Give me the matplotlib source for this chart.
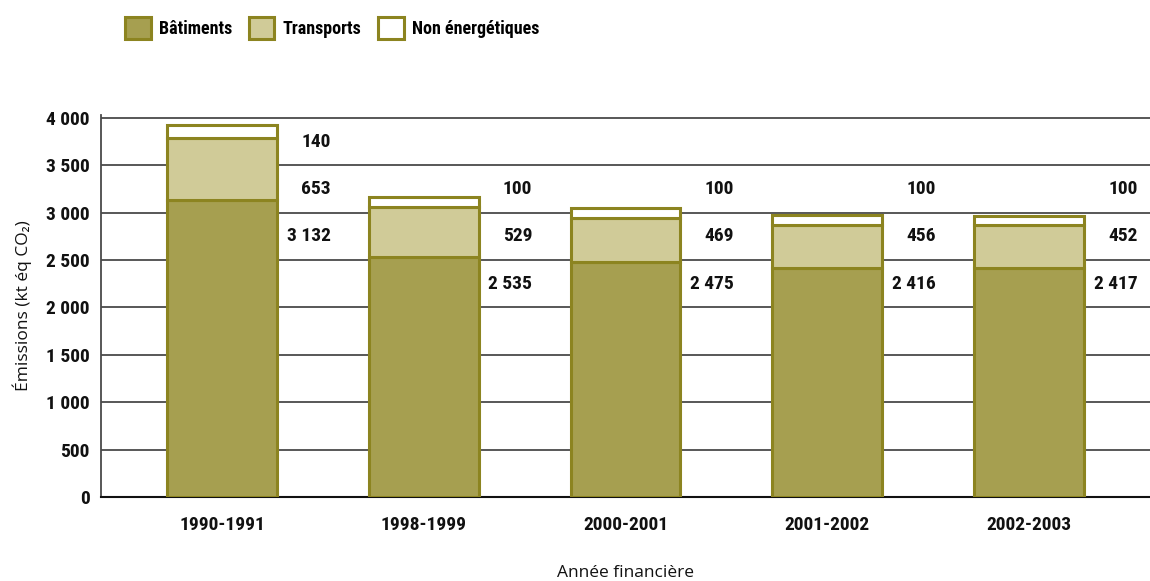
import matplotlib
matplotlib.use("Agg")
import matplotlib.pyplot as plt
from matplotlib.patches import Patch
from matplotlib import font_manager

# Data (kt éq CO2)
years = ["1990-1991", "1998-1999", "2000-2001", "2001-2002", "2002-2003"]
batiments = [3132, 2535, 2475, 2416, 2417]
transports = [653, 529, 469, 456, 452]
non_energetiques = [140, 100, 100, 100, 100]
series_names = ["Bâtiments", "Transports", "Non énergétiques"]
yticks = [0, 500, 1000, 1500, 2000, 2500, 3000, 3500, 4000]

# Fonts: a narrow face for numbers and legend, a regular one for axis titles
available = {f.name for f in font_manager.fontManager.ttflist}
narrow = None
for cand in ["Liberation Sans Narrow", "DejaVu Sans Condensed", "Roboto Condensed",
             "Open Sans Condensed", "Noto Sans Condensed"]:
    if cand in available:
        narrow = cand
        break
if narrow is None:
    narrow = "DejaVu Sans"
plain = "Open Sans" if "Open Sans" in available else "DejaVu Sans"

FILL_BAT = "#a69f50"
FILL_TRA = "#d0cb98"
FILL_NON = "#ffffff"
EDGE = "#8c8420"

fig = plt.figure(figsize=(11.5, 5.81), dpi=100)
ax = fig.add_axes([101 / 1150, 1 - 497 / 581, 1 - 101 / 1150, (497 - 115) / 581])

x = list(range(len(years)))
width = 0.545
bottoms2 = batiments
bottoms3 = [b + t for b, t in zip(batiments, transports)]
ax.bar(x, batiments, width, color=FILL_BAT, edgecolor=EDGE, linewidth=2.2, zorder=3)
ax.bar(x, transports, width, bottom=bottoms2, color=FILL_TRA, edgecolor=EDGE, linewidth=2.2, zorder=3)
ax.bar(x, non_energetiques, width, bottom=bottoms3, color=FILL_NON, edgecolor=EDGE, linewidth=2.2, zorder=3)

def fmt(v):
    return f"{v:,}".replace(",", " ")

# Value labels, placed in the grid bands beside each bar
label_font = dict(family=narrow, fontweight="bold", fontsize=14, color="#111111")
for i in range(len(years)):
    vals = [non_energetiques[i], transports[i], batiments[i]]
    top_band = 3750 if i == 0 else 3250
    for k, v in enumerate(vals):
        ax.text(i + width / 2 + 0.265, top_band - 500 * k, fmt(v),
                ha="right", va="center", **label_font)

ax.set_xlim(-0.6, 4.6)
ax.set_ylim(0, 4030)
ax.set_yticks(yticks)
ax.set_yticklabels([fmt(v) for v in yticks], **label_font)
ax.set_xticks(x)
ax.set_xticklabels(years, **label_font)
ax.tick_params(axis="both", length=0)
ax.tick_params(axis="y", pad=8)
ax.tick_params(axis="x", pad=14)

ax.yaxis.grid(True, color="#4a4a4a", linewidth=1.3, zorder=0)
ax.set_axisbelow(True)
for s in ["top", "right"]:
    ax.spines[s].set_visible(False)
ax.spines["left"].set_color("#4a4a4a")
ax.spines["left"].set_linewidth(1.3)
ax.spines["bottom"].set_color("#111111")
ax.spines["bottom"].set_linewidth(1.5)

ax.set_ylabel("Émissions (kt éq CO₂)", family=plain, fontsize=12.5, labelpad=10, color="#111111")
ax.set_xlabel("Année financière", family=plain, fontsize=12.5, labelpad=22, color="#111111")

handles = [Patch(facecolor=FILL_BAT, edgecolor=EDGE, linewidth=2.2),
           Patch(facecolor=FILL_TRA, edgecolor=EDGE, linewidth=2.2),
           Patch(facecolor=FILL_NON, edgecolor=EDGE, linewidth=2.2)]
fig.legend(handles, series_names, loc="upper left", bbox_to_anchor=(109 / 1150, 1 - 1 / 581),
           ncol=3, frameon=False, handlelength=1.4, handleheight=1.5, handletextpad=0.45,
           columnspacing=0.95, prop=dict(family=narrow, weight="bold", size=13))

fig.savefig("out.png", dpi=100)
